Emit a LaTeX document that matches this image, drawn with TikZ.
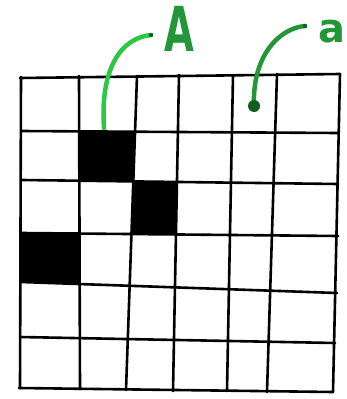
\documentclass[tikz,border=0pt]{standalone}
\usepackage{fontspec}
\setsansfont{DejaVu Sans}
\definecolor{brightgreen}{RGB}{45,200,65}
\definecolor{midgreen}{RGB}{35,150,55}
\definecolor{darkgreen}{RGB}{15,95,30}
\tikzset{
  gridline/.style={line width=2.6pt, black, line cap=round, line join=round},
  cellfill/.style={fill=black},
  leaderA/.style={line width=4.5pt, brightgreen, line cap=round},
  leadera/.style={line width=4.5pt, midgreen, line cap=round},
  labelA/.style={font=\sffamily\bfseries\fontsize{62}{62}\selectfont, text=midgreen, inner sep=0pt, anchor=base west, xscale=0.62},
  labela/.style={font=\sffamily\bfseries\fontsize{40}{40}\selectfont, text=midgreen, inner sep=0pt, anchor=base west}
}
\begin{document}
\begin{tikzpicture}[x=1pt,y=-1pt]
\fill[white] (0,0) rectangle (347,399);
\useasboundingbox (0,0) rectangle (347,399);
% vertical line ends
\coordinate (v0t) at (21,77);  \coordinate (v0b) at (20,388);
\coordinate (v1t) at (79,76);  \coordinate (v1b) at (80,389);
\coordinate (v2t) at (137,76); \coordinate (v2b) at (126,390);
\coordinate (v3t) at (179,75); \coordinate (v3b) at (173,391);
\coordinate (v4t) at (233,75); \coordinate (v4b) at (227,391);
\coordinate (v5t) at (277,74); \coordinate (v5b) at (267,392);
\coordinate (v6t) at (340,74); \coordinate (v6b) at (333,392);
% horizontal line ends
\coordinate (h0l) at (20,78);  \coordinate (h0r) at (340,74);
\coordinate (h1l) at (21,131); \coordinate (h1r) at (338,133);
\coordinate (h2l) at (22,180); \coordinate (h2r) at (338,184);
\coordinate (h3l) at (22,233); \coordinate (h3r) at (338,236);
\coordinate (h4l) at (21,282); \coordinate (h4r) at (337,293);
\coordinate (h5l) at (20,337); \coordinate (h5r) at (335,343);
\coordinate (h6l) at (19,388); \coordinate (h6r) at (333,392);
% cell corners
\coordinate (a11) at (intersection of v1t--v1b and h1l--h1r);
\coordinate (a21) at (intersection of v2t--v2b and h1l--h1r);
\coordinate (a12) at (intersection of v1t--v1b and h2l--h2r);
\coordinate (a22) at (intersection of v2t--v2b and h2l--h2r);
\coordinate (a32) at (intersection of v3t--v3b and h2l--h2r);
\coordinate (a23) at (intersection of v2t--v2b and h3l--h3r);
\coordinate (a33) at (intersection of v3t--v3b and h3l--h3r);
\coordinate (a03) at (intersection of v0t--v0b and h3l--h3r);
\coordinate (a13) at (intersection of v1t--v1b and h3l--h3r);
\coordinate (a04) at (intersection of v0t--v0b and h4l--h4r);
\coordinate (a14) at (intersection of v1t--v1b and h4l--h4r);
% black cells
\fill[cellfill] (a11) -- (a21) -- (a22) -- (a12) -- cycle;
\fill[cellfill] (a22) -- (a32) -- (a33) -- (a23) -- cycle;
\fill[cellfill] (a03) -- (a13) -- (a14) -- (a04) -- cycle;
% grid
\foreach \i in {0,...,6} {
  \draw[gridline] (v\i t) -- (v\i b);
  \draw[gridline] (h\i l) -- (h\i r);
}
% leader to A
\coordinate (Afoot) at (104,128);
\coordinate (Atip) at (151,35);
\draw[leaderA] (Afoot) .. controls (100,70) and (120,38) .. (Atip);
\fill[darkgreen] (Atip) circle (2.2);
\node[labelA] (A) at (164,51) {A};
% leader to a
\coordinate (afoot) at (254,106);
\coordinate (atip) at (305,26);
\draw[leadera] (afoot) .. controls (252,55) and (280,28) .. (atip);
\fill[darkgreen] (afoot) circle (6);
\fill[darkgreen] (atip) circle (2.2);
\node[labela] (a) at (318,42) {a};
\end{tikzpicture}
\end{document}
